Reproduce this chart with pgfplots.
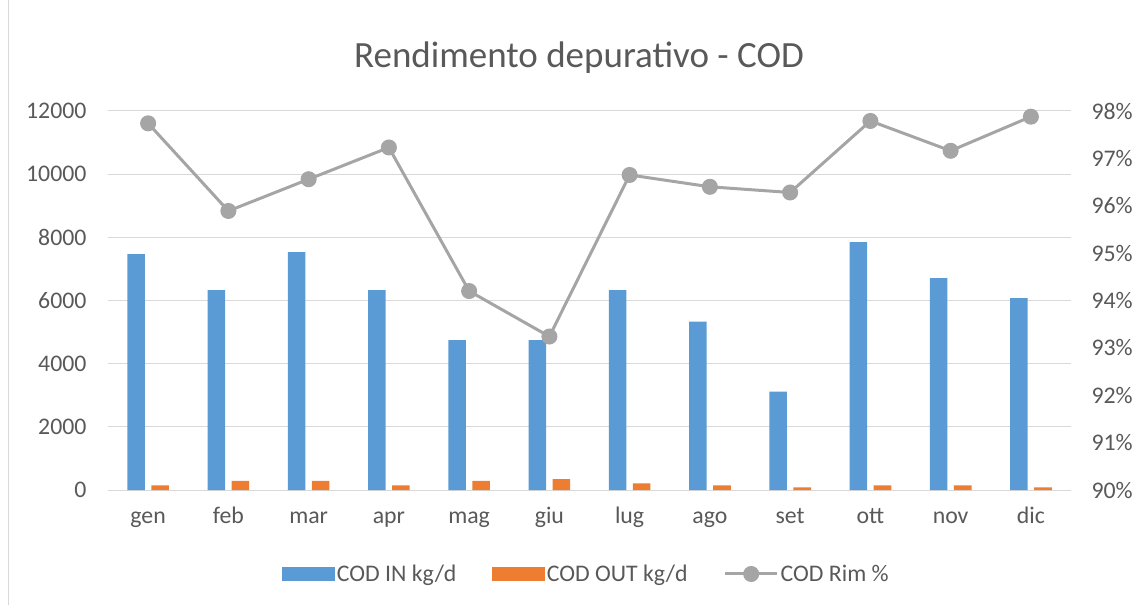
\documentclass[border=0pt]{standalone}
\usepackage{pgfplots}
\pgfplotsset{compat=1.18}
\usepackage{pgfplotstable}
\usepackage{fontspec}
\setmainfont{Carlito}
\definecolor{cin}{HTML}{5B9BD5}
\definecolor{cout}{HTML}{ED7D31}
\definecolor{crim}{HTML}{A5A5A5}
\definecolor{ctxt}{HTML}{595959}
\definecolor{cgrid}{HTML}{D9D9D9}

\pgfplotstableread{
x in out rim
0 7472 148 97.74
1 6332 285 95.89
2 7535 285 96.56
3 6332 148 97.23
4 4749 285 94.20
5 4749 348 93.24
6 6332 211 96.65
7 5331 148 96.40
8 3113 84 96.28
9 7852 148 97.79
10 6712 148 97.16
11 6079 84 97.88
}\data

\pgfplotsset{
  common/.style={
    scale only axis, width=963pt, height=379pt,
    at={(108pt,115pt)}, anchor=south west,
    xmin=-0.5, xmax=11.5,
    axis line style={draw=none},
    major tick length=0pt,
    ticklabel style={font=\fontsize{23.8}{28}\selectfont, text=ctxt},
    /pgf/number format/assume math mode=true,
  }
}

\begin{document}
\begin{tikzpicture}[x=1pt,y=1pt]
\useasboundingbox (0,0) rectangle (1139,605);
\draw[cgrid, line width=1pt] (8,0) -- (8,605);
\node[font=\fontsize{37}{44}\selectfont, text=ctxt] at (579,547) {Rendimento depurativo - COD};

\begin{axis}[common,
  ymin=0, ymax=12000,
  ytick={0,2000,4000,6000,8000,10000,12000},
  scaled y ticks=false,
  yticklabel style={/pgf/number format/1000 sep={}, xshift=-18pt},
  xticklabel style={anchor=base, yshift=-33pt},
  ytick pos=left, xtick pos=bottom,
  xtick={0,...,11},
  xticklabels={gen,feb,mar,apr,mag,giu,lug,ago,set,ott,nov,dic},
  ymajorgrids, grid style={cgrid, line width=1pt},
  ybar, bar width=0.22,
]
\addplot[fill=cin, draw=none, bar shift=-0.15] table[x=x,y=in]{\data};
\addplot[fill=cout, draw=none, bar shift=0.15] table[x=x,y=out]{\data};
\end{axis}

\begin{axis}[common,
  ymin=90, ymax=98,
  ytick={90,91,...,98},
  yticklabel={\pgfmathprintnumber{\tick}\%},
  yticklabel style={xshift=17pt},
  ytick pos=right,
  xtick=\empty,
  legend columns=3,
  legend style={draw=none, fill=none, at={(0.497,-0.2216)}, anchor=center,
    font=\fontsize{23.8}{28}\selectfont, text=ctxt,
    /tikz/every even column/.append style={column sep=34pt},
    nodes={inner xsep=2pt}},
]
\addlegendimage{legend image code/.code={\fill[cin] (0pt,-6.5pt) rectangle (52pt,6.5pt);}}
\addlegendimage{legend image code/.code={\fill[cout] (0pt,-6.5pt) rectangle (52pt,6.5pt);}}
\addplot[crim, line width=3pt, mark=*, mark size=6.5pt, mark options={fill=crim, draw=crim},
  legend image code/.code={\draw[crim, line width=3pt] (0pt,0pt) -- (52pt,0pt); \fill[crim] (26pt,0pt) circle (6.5pt);}]
  table[x=x,y=rim]{\data};
\legend{COD IN kg/d, COD OUT kg/d, COD Rim \%}
\end{axis}
\end{tikzpicture}
\end{document}
